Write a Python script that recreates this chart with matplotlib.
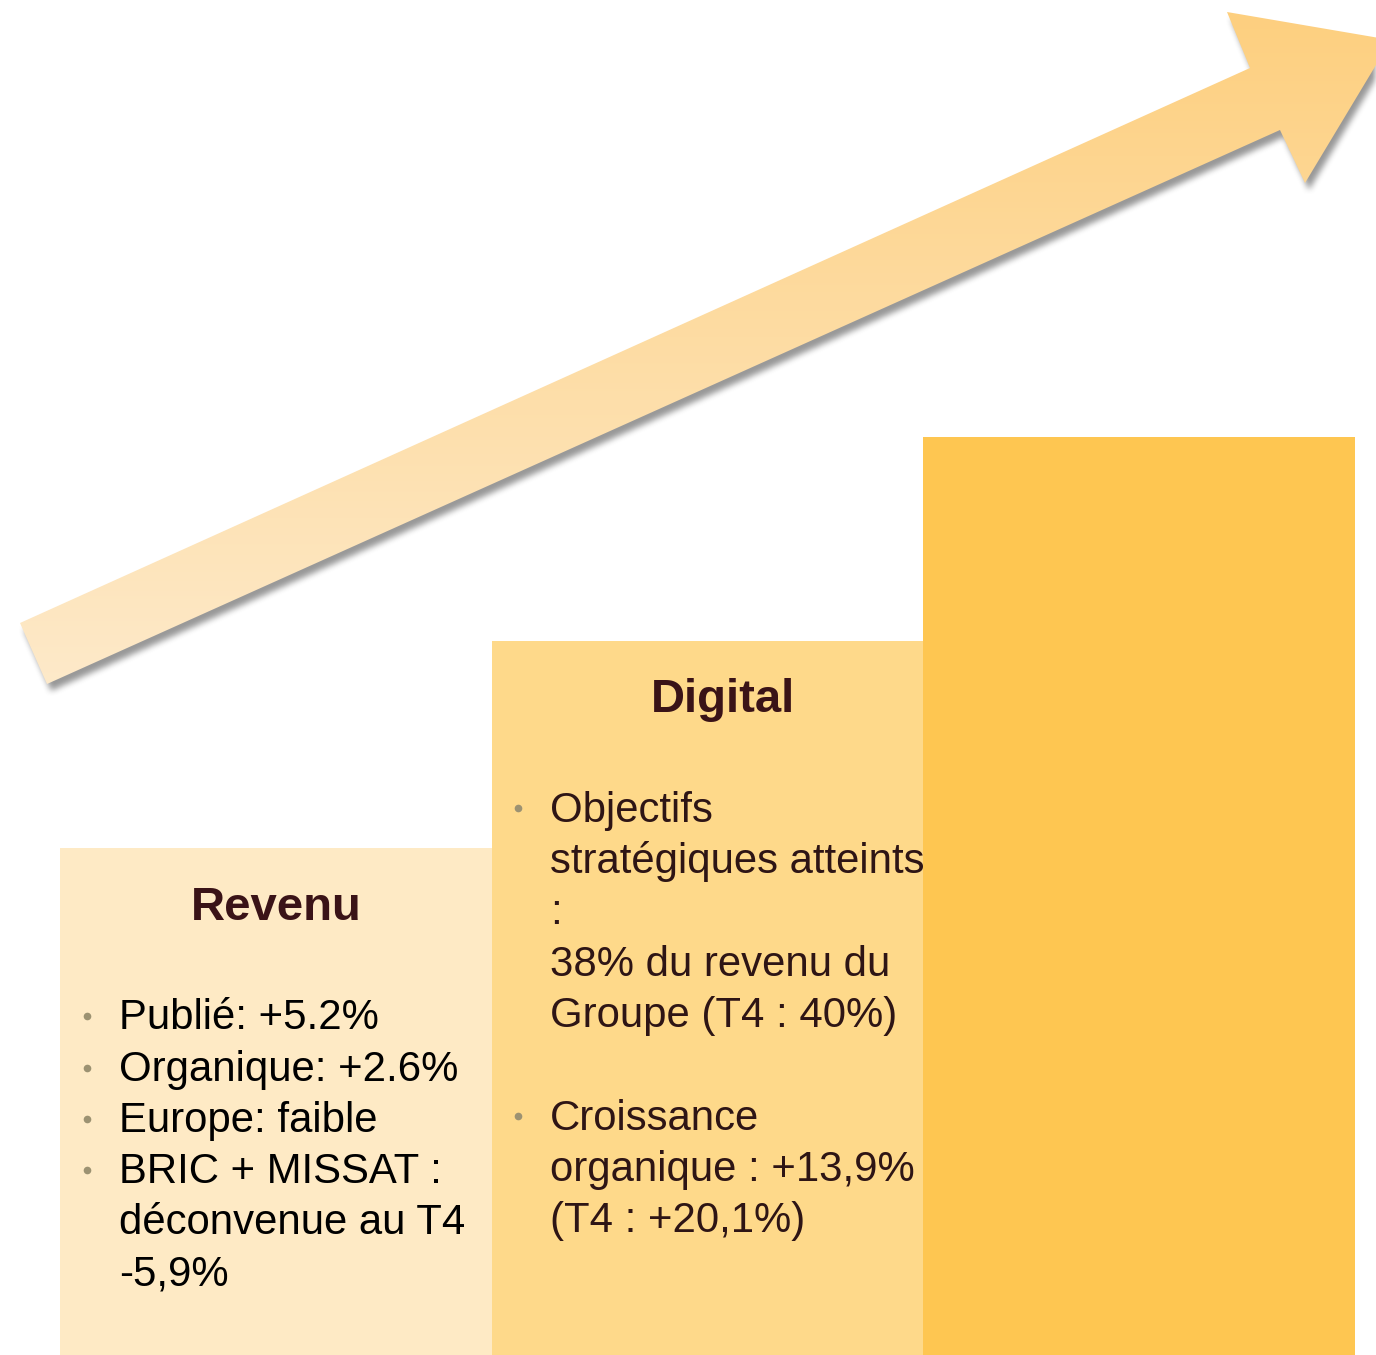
import numpy as np
import matplotlib
matplotlib.use("Agg")
import matplotlib.pyplot as plt
from matplotlib.path import Path
from matplotlib.patches import PathPatch
from matplotlib.colors import LinearSegmentedColormap

W, H = 1376, 1355

# ---- data ----
categories = ["Revenu", "Digital", ""]
heights = [507, 714, 918]
bar_colors = ["#FEEAC5", "#FED98A", "#FEC651"]

revenu_lines = ["Publié: +5.2%", "Organique: +2.6%", "Europe: faible",
                "BRIC + MISSAT :", "déconvenue au T4", "-5,9%"]
revenu_bullets = [True, True, True, True, False, False]
digital_lines = ["Objectifs", "stratégiques atteints", ":", "38% du revenu du",
                 "Groupe (T4 : 40%)", "", "Croissance", "organique : +13,9%",
                 "(T4 : +20,1%)"]
digital_bullets = [True, False, False, False, False, False, True, False, False]

FONT = "Liberation Sans"
BODY_SIZE = 30.2

fig = plt.figure(figsize=(W / 100, H / 100), dpi=100)
fig.patch.set_facecolor("white")

# ---- bars (data axes) ----
ax = fig.add_axes([0, 0, 1, 1])
unit = 431.67
x0 = -0.5 - 60 / unit
ax.set_xlim(x0, x0 + W / unit)
ax.set_ylim(0, H)
ax.bar(range(len(categories)), heights, width=1.0, color=bar_colors, linewidth=0)
ax.axis("off")

# ---- overlay in pixel coordinates ----
ov = fig.add_axes([0, 0, 1, 1])
ov.set_xlim(0, W)
ov.set_ylim(H, 0)
ov.axis("off")
ov.patch.set_alpha(0)

arrow_pts = [(20, 623), (1250, 68), (1227, 12), (1391, 40), (1305, 183),
             (1280, 130), (47, 684)]
path = Path(arrow_pts + [arrow_pts[0]],
            [Path.MOVETO] + [Path.LINETO] * 6 + [Path.CLOSEPOLY])

# shadow
yy, xx = np.mgrid[0:H, 0:W]
pts = np.column_stack([xx.ravel() + 0.5 - 4, yy.ravel() + 0.5 - 7])
mask = path.contains_points(pts).reshape(H, W).astype(float)


def blur1d(a, r, axis):
    pad = [(0, 0), (0, 0)]
    pad[axis] = (r + 1, r)
    c = np.cumsum(np.pad(a, pad), axis=axis)
    n = a.shape[axis]
    if axis == 0:
        return (c[2 * r + 1:2 * r + 1 + n] - c[0:n]) / (2 * r + 1)
    return (c[:, 2 * r + 1:2 * r + 1 + n] - c[:, 0:n]) / (2 * r + 1)


for _ in range(2):
    mask = blur1d(mask, 3, 0)
    mask = blur1d(mask, 3, 1)
shadow = np.zeros((H, W, 4))
shadow[..., :3] = 0.33
shadow[..., 3] = mask * 0.6
ov.imshow(shadow, extent=(0, W, H, 0), origin="upper", interpolation="none",
          zorder=1, aspect="auto")

# gradient arrow
cmap = LinearSegmentedColormap.from_list("arr", ["#FDCF7E", "#FEEACB"])
grad = np.clip(np.linspace(0, H, 600) / 700.0, 0, 1)[:, None]
im = ov.imshow(np.repeat(grad, 2, axis=1), cmap=cmap, vmin=0, vmax=1,
               extent=(0, W, H, 0), origin="upper", aspect="auto", zorder=2)
patch = PathPatch(path, facecolor="none", edgecolor="none",
                  transform=ov.transData)
ov.add_patch(patch)
im.set_clip_path(patch)
ov.set_xlim(0, W)
ov.set_ylim(H, 0)

# ---- titles ----
title_color = "#3A1317"
ov.text(276, 920, categories[0], fontsize=34, fontweight="bold",
        family=FONT, color=title_color, ha="center", va="baseline", zorder=5)
ov.text(723, 712, categories[1], fontsize=34, fontweight="bold",
        family=FONT, color=title_color, ha="center", va="baseline", zorder=5)

bullet_color = "#9C9272"

# Revenu list
for i, (line, b) in enumerate(zip(revenu_lines, revenu_bullets)):
    yb = 1029.3 + i * 51.2
    ov.text(119, yb, line, fontsize=BODY_SIZE, family=FONT, color="#000000",
            ha="left", va="baseline", zorder=5)
    if b:
        ov.plot([87], [yb - 13], marker="o", markersize=5.5, color=bullet_color,
                markeredgewidth=0, zorder=5)

# Digital list
for i, (line, b) in enumerate(zip(digital_lines, digital_bullets)):
    yb = 821.7 + i * 51.3
    if line:
        ov.text(550, yb, line, fontsize=BODY_SIZE, family=FONT, color="#2E1515",
                ha="left", va="baseline", zorder=5)
    if b:
        ov.plot([518], [yb - 13.5], marker="o", markersize=5.5,
                color=bullet_color, markeredgewidth=0, zorder=5)

fig.savefig("out.png", dpi=100, facecolor="white")
